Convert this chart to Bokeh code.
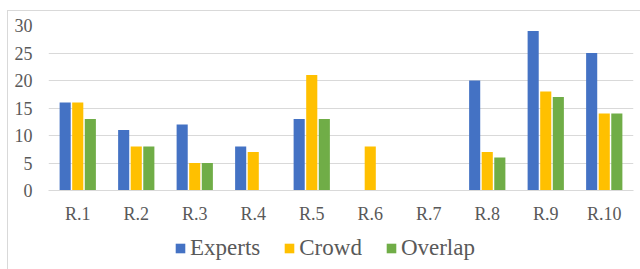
from bokeh.plotting import figure
from bokeh.models import ColumnDataSource, FactorRange, Legend, LegendItem
from bokeh.layouts import column
from bokeh.transform import dodge
from bokeh.embed import file_html
from bokeh.resources import INLINE

categories = ["R.1", "R.2", "R.3", "R.4", "R.5", "R.6", "R.7", "R.8", "R.9", "R.10"]
experts = [16, 11, 12, 8, 13, 0, 0, 20, 29, 25]
crowd = [16, 8, 5, 7, 21, 8, 0, 7, 18, 14]
overlap = [13, 8, 5, 0, 13, 0, 0, 6, 17, 14]
y_ticks = [0, 5, 10, 15, 20, 25, 30]
series_names = ["Experts", "Crowd", "Overlap"]
series_colors = ["#4472C4", "#FFC000", "#70AD47"]

FONT = "Liberation Serif"
TXT = "#595959"
GRID = "#d9d9d9"

src = ColumnDataSource(dict(cat=categories, experts=experts, crowd=crowd, overlap=overlap))

bg1 = ("linear-gradient(#d9d9d9,#d9d9d9) 7px 10px / 1px 400px no-repeat, "
       "linear-gradient(#d9d9d9,#d9d9d9) 7px 10px / 800px 1px no-repeat, white")
bg2 = "linear-gradient(#d9d9d9,#d9d9d9) 7px 0px / 1px 400px no-repeat, white"

p = figure(
    x_range=FactorRange(factors=categories, range_padding=0),
    y_range=(0, 30),
    frame_width=585, frame_height=165,
    output_backend="svg", toolbar_location=None,
    min_border_left=48, min_border_right=7, min_border_top=25, min_border_bottom=35,
    border_fill_color=None,
    styles={"background": bg1},
)

w = 0.19
for field, off, col in zip(["experts", "crowd", "overlap"], [-0.215, 0.0, 0.215], series_colors):
    p.vbar(x=dodge("cat", off, range=p.x_range), top=field, width=w, source=src,
           fill_color=col, line_color=None)

p.outline_line_color = None
p.xgrid.grid_line_color = None
p.ygrid.grid_line_color = GRID
p.ygrid.grid_line_width = 1

p.yaxis.ticker = y_ticks
p.yaxis.axis_line_color = None
p.yaxis.major_tick_line_color = None
p.yaxis.minor_tick_line_color = None
p.yaxis.major_label_text_font = FONT
p.yaxis.major_label_text_font_size = "18px"
p.yaxis.major_label_text_color = TXT
p.yaxis.major_label_standoff = 10

p.xaxis.axis_line_color = GRID
p.xaxis.major_tick_line_color = None
p.xaxis.minor_tick_line_color = None
p.xaxis.major_label_text_font = FONT
p.xaxis.major_label_text_font_size = "18px"
p.xaxis.major_label_text_color = TXT
p.xaxis.major_label_standoff = 7

# legend strip
p2 = figure(
    width=640, height=44, x_range=(0, 1), y_range=(0, 1),
    x_axis_type=None, y_axis_type=None,
    output_backend="svg", toolbar_location=None,
    min_border_left=0, min_border_right=0, min_border_top=0, min_border_bottom=0,
    border_fill_color=None, background_fill_color=None,
    styles={"background": bg2},
)
p2.outline_line_color = None
p2.grid.visible = False

items = []
for name, col in zip(series_names, series_colors):
    # zero-height placeholder bar: only its legend swatch is visible
    r = p2.vbar(x=[0], top=[0], bottom=[0], width=0.0, fill_color=col, line_color=None)
    items.append(LegendItem(label=name, renderers=[r]))

legend = Legend(
    items=items, orientation="horizontal", location=(126, 9),
    label_text_font=FONT, label_text_font_size="23px", label_text_color=TXT,
    glyph_width=12, glyph_height=12, label_standoff=4, spacing=23,
    border_line_color=None, background_fill_alpha=0, padding=4, margin=0,
)
p2.add_layout(legend)

layout = column(p, p2, spacing=0)
open("out.html", "w").write(file_html(layout, INLINE))
